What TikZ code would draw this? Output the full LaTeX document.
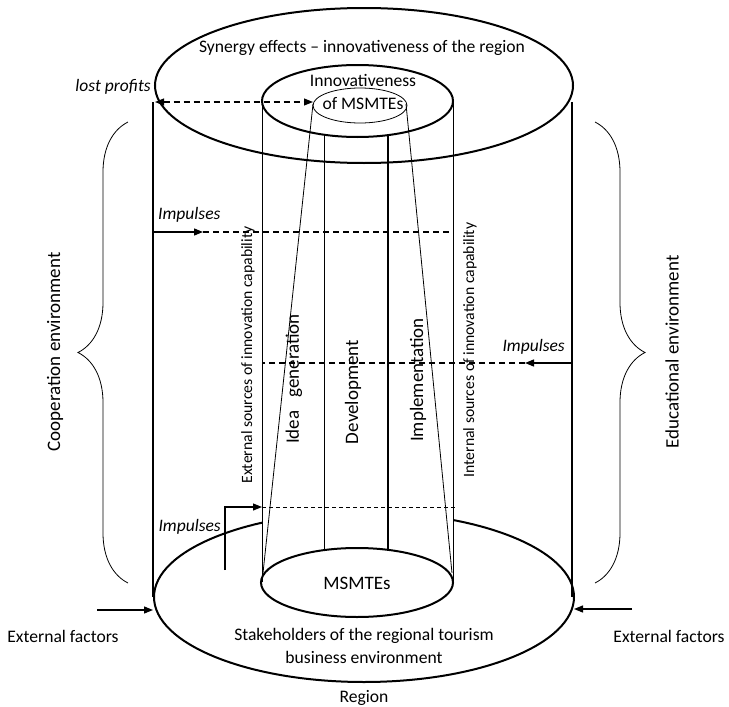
\documentclass[tikz,border=0pt]{standalone}
\usepackage{fontspec}
\setmainfont{Carlito}
\usetikzlibrary{arrows.meta, decorations.pathreplacing}

\tikzset{
    thickline/.style={line width=2pt},
    thinline/.style={line width=0.8pt},
    dashline/.style={line width=1.1pt, dash pattern=on 6pt off 4pt},
    tip/.style={-{Triangle[length=9pt, width=7pt]}},
    txt/.style={font=\fontsize{17.6}{22.5}\selectfont, inner sep=0pt, align=center},
    smalltxt/.style={font=\fontsize{15.7}{18}\selectfont, inner sep=0pt},
    bigtxt/.style={font=\fontsize{19}{22}\selectfont, inner sep=0pt},
    imptxt/.style={font=\fontsize{17.5}{20}\selectfont\itshape, inner sep=0pt},
    bracket/.style={line width=0.8pt, decorate, decoration={brace, amplitude=50pt}}
}

\begin{document}
\begin{tikzpicture}[x=1pt, y=-1pt]
                \useasboundingbox (0,0) rectangle (729,707);
                % points of the cylinders
                \coordinate (TL) at (153,102);
                \coordinate (TR) at (572,102);
                \coordinate (BL) at (153,597);
                \coordinate (BR) at (572,597);
                \coordinate (ITL) at (262,101);
                \coordinate (ITR) at (453,101);
                \coordinate (IBL) at (262,582);
                \coordinate (IBR) at (453,582);
                % bottom ellipse, hidden behind the inner cylinder
                \draw[thickline] (364,597) ellipse [x radius=210pt, y radius=85pt];
                \fill[white] (ITL) rectangle (IBR);
                % ellipses
                \draw[thickline] (364,85.5) ellipse [x radius=209pt, y radius=77.5pt];
                \draw[thickline] (357.5,101) ellipse [x radius=95.5pt, y radius=36pt];
                \draw[thinline] (360,105.5) ellipse [x radius=47pt, y radius=17.5pt];
                \draw[thickline, fill=white] (357,582.5) ellipse [x radius=96pt, y radius=34.5pt];
                % walls
                \draw[thickline] (TL) -- (BL);
                \draw[thickline] (TR) -- (BR);
                \draw[thinline] (ITL) -- (IBL);
                \draw[thinline] (ITR) -- (IBR);
                \draw[thinline] (324,135) -- (324,550);
                \draw[line width=1.4pt] (388,135) -- (388,550);
                \draw[thinline] (313,104) -- (263,573);
                \draw[thinline] (406,104) -- (452,573);
                % lost profits
                \coordinate (LP1) at (155,102);
                \coordinate (LP2) at (313,102);
                \draw[dashline, {Triangle[length=9pt, width=7pt]}-{Triangle[length=9pt, width=7pt]}] (LP1) -- (LP2);
                \node[imptxt, anchor=east] (lost) at (151,87) {lost profits};
                % impulses
                \coordinate (I1a) at (153,232);
                \coordinate (I1b) at (203,232);
                \coordinate (I1c) at (453,232);
                \draw[line width=1.3pt, tip] (I1a) -- (I1b);
                \draw[dashline] (I1b) -- (I1c);
                \node[imptxt, anchor=west] (imp1) at (158,215) {Impulses};
                \coordinate (I2a) at (572,363);
                \coordinate (I2b) at (525,363);
                \coordinate (I2c) at (263,363);
                \draw[line width=1.3pt, tip] (I2a) -- (I2b);
                \draw[dashline] (I2b) -- (I2c);
                \node[imptxt, anchor=east] (imp2) at (565,347) {Impulses};
                \coordinate (I3a) at (225,570);
                \coordinate (I3b) at (262,507);
                \coordinate (I3c) at (455,507);
                \draw[line width=1.1pt, tip] (I3a) |- (I3b);
                \draw[line width=0.8pt, dash pattern=on 4pt off 3pt] (I3b) -- (I3c);
                \node[imptxt, anchor=east] (imp3) at (221,527) {Impulses};
                % external factors
                \coordinate (EL) at (97,610);
                \coordinate (ER) at (632,609);
                \draw[line width=1.3pt, tip] (EL) -- (153,610);
                \draw[line width=1.3pt, tip] (ER) -- (574,609);
                \node[txt] (extL) at (63,636) {External factors};
                \node[txt] (extR) at (669,636) {External factors};
                % braces
                \draw[bracket] (128,583) -- (128,122);
                \draw[bracket] (595,122) -- (595,583);
                \node[txt, font=\fontsize{19}{22}\selectfont, rotate=90] (coop) at (55,352) {Cooperation environment};
                \node[txt, font=\fontsize{19}{22}\selectfont, rotate=90] (edu) at (672,352) {Educational environment};
                % texts
                \node[txt] (syn) at (362,48) {Synergy effects -- innovativeness of the region};
                \node[txt] (inno) at (363,92) {Innovativeness\\of MSMTEs};
                \node[bigtxt] (msm) at (357,583) {MSMTEs};
                \node[txt] (stake) at (364,646) {Stakeholders of the regional tourism\\business environment};
                \node[txt] (reg) at (364,698) {Region};
                \node[smalltxt, rotate=90] (ext) at (248,355) {External sources of innovation capability};
                \node[smalltxt, rotate=90] (int) at (470,350) {Internal sources of innovation capability};
                \node[bigtxt, rotate=90] (idea) at (294,379) {Idea\ \ \ generation};
                \node[bigtxt, rotate=90] (dev) at (353,392) {Development};
                \node[bigtxt, rotate=90] (impl) at (418,380) {Implementation};
\end{tikzpicture}
\end{document}
